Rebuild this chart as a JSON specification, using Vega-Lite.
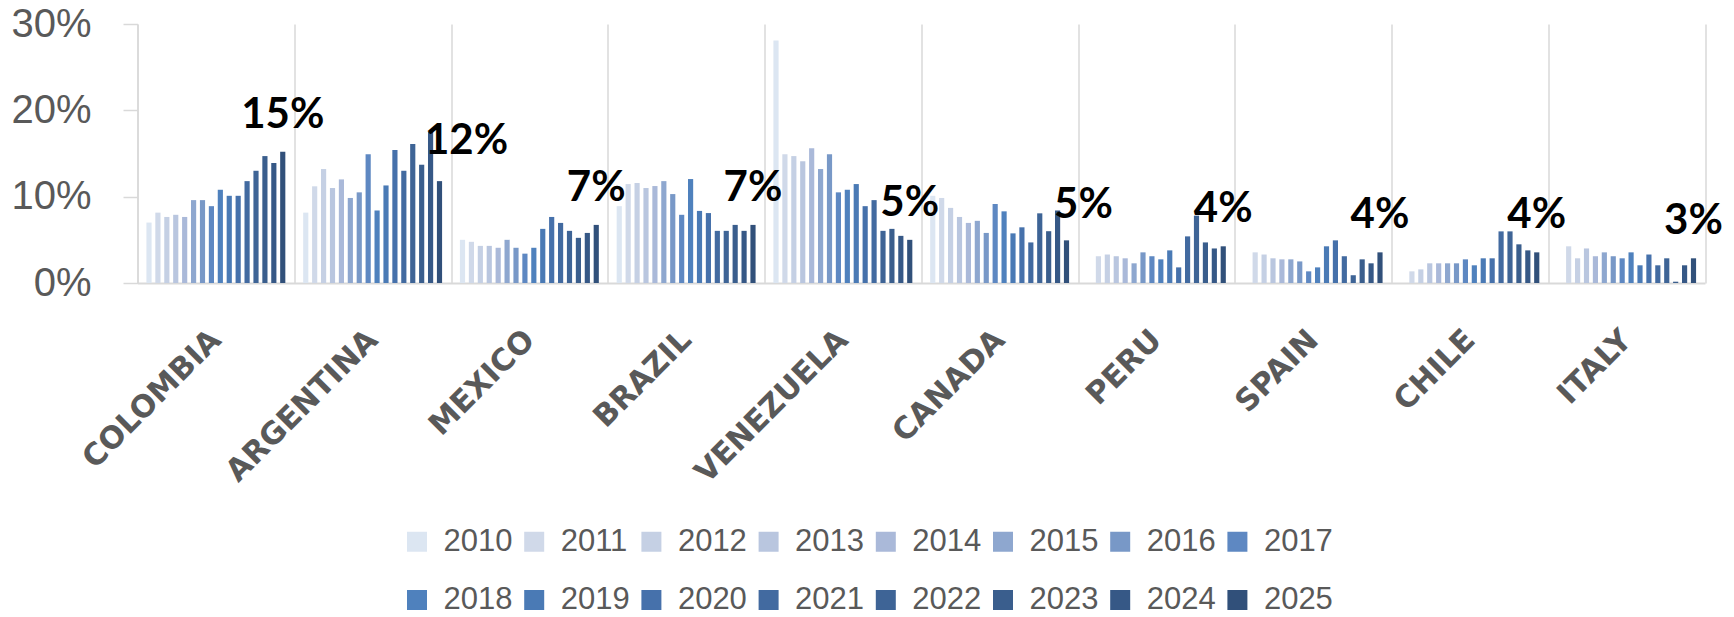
{
  "$schema": "https://vega.github.io/schema/vega-lite/v6.json",
  "autosize": {"type": "none"},
  "padding": {"left": 137.5, "top": 24, "right": 29, "bottom": 334},
  "width": 1567.5,
  "height": 259,
  "background": "white",
  "config": {"view": {"stroke": null}},
  "datasets": {
    "rates": [
      {"country": "COLOMBIA", "year": "2010", "value": 0.0700},
      {"country": "COLOMBIA", "year": "2011", "value": 0.0815},
      {"country": "COLOMBIA", "year": "2012", "value": 0.0765},
      {"country": "COLOMBIA", "year": "2013", "value": 0.0790},
      {"country": "COLOMBIA", "year": "2014", "value": 0.0765},
      {"country": "COLOMBIA", "year": "2015", "value": 0.0960},
      {"country": "COLOMBIA", "year": "2016", "value": 0.0960},
      {"country": "COLOMBIA", "year": "2017", "value": 0.0890},
      {"country": "COLOMBIA", "year": "2018", "value": 0.1080},
      {"country": "COLOMBIA", "year": "2019", "value": 0.1010},
      {"country": "COLOMBIA", "year": "2020", "value": 0.1010},
      {"country": "COLOMBIA", "year": "2021", "value": 0.1180},
      {"country": "COLOMBIA", "year": "2022", "value": 0.1300},
      {"country": "COLOMBIA", "year": "2023", "value": 0.1470},
      {"country": "COLOMBIA", "year": "2024", "value": 0.1390},
      {"country": "COLOMBIA", "year": "2025", "value": 0.1520},
      {"country": "ARGENTINA", "year": "2010", "value": 0.0815},
      {"country": "ARGENTINA", "year": "2011", "value": 0.1120},
      {"country": "ARGENTINA", "year": "2012", "value": 0.1320},
      {"country": "ARGENTINA", "year": "2013", "value": 0.1100},
      {"country": "ARGENTINA", "year": "2014", "value": 0.1200},
      {"country": "ARGENTINA", "year": "2015", "value": 0.0985},
      {"country": "ARGENTINA", "year": "2016", "value": 0.1050},
      {"country": "ARGENTINA", "year": "2017", "value": 0.1490},
      {"country": "ARGENTINA", "year": "2018", "value": 0.0840},
      {"country": "ARGENTINA", "year": "2019", "value": 0.1130},
      {"country": "ARGENTINA", "year": "2020", "value": 0.1540},
      {"country": "ARGENTINA", "year": "2021", "value": 0.1300},
      {"country": "ARGENTINA", "year": "2022", "value": 0.1610},
      {"country": "ARGENTINA", "year": "2023", "value": 0.1370},
      {"country": "ARGENTINA", "year": "2024", "value": 0.1750},
      {"country": "ARGENTINA", "year": "2025", "value": 0.1180},
      {"country": "MEXICO", "year": "2010", "value": 0.0500},
      {"country": "MEXICO", "year": "2011", "value": 0.0477},
      {"country": "MEXICO", "year": "2012", "value": 0.0430},
      {"country": "MEXICO", "year": "2013", "value": 0.0430},
      {"country": "MEXICO", "year": "2014", "value": 0.0408},
      {"country": "MEXICO", "year": "2015", "value": 0.0500},
      {"country": "MEXICO", "year": "2016", "value": 0.0408},
      {"country": "MEXICO", "year": "2017", "value": 0.0340},
      {"country": "MEXICO", "year": "2018", "value": 0.0408},
      {"country": "MEXICO", "year": "2019", "value": 0.0627},
      {"country": "MEXICO", "year": "2020", "value": 0.0765},
      {"country": "MEXICO", "year": "2021", "value": 0.0696},
      {"country": "MEXICO", "year": "2022", "value": 0.0604},
      {"country": "MEXICO", "year": "2023", "value": 0.0523},
      {"country": "MEXICO", "year": "2024", "value": 0.0580},
      {"country": "MEXICO", "year": "2025", "value": 0.0673},
      {"country": "BRAZIL", "year": "2010", "value": 0.0890},
      {"country": "BRAZIL", "year": "2011", "value": 0.1146},
      {"country": "BRAZIL", "year": "2012", "value": 0.1158},
      {"country": "BRAZIL", "year": "2013", "value": 0.1100},
      {"country": "BRAZIL", "year": "2014", "value": 0.1123},
      {"country": "BRAZIL", "year": "2015", "value": 0.1180},
      {"country": "BRAZIL", "year": "2016", "value": 0.1030},
      {"country": "BRAZIL", "year": "2017", "value": 0.0790},
      {"country": "BRAZIL", "year": "2018", "value": 0.1204},
      {"country": "BRAZIL", "year": "2019", "value": 0.0835},
      {"country": "BRAZIL", "year": "2020", "value": 0.0810},
      {"country": "BRAZIL", "year": "2021", "value": 0.0604},
      {"country": "BRAZIL", "year": "2022", "value": 0.0604},
      {"country": "BRAZIL", "year": "2023", "value": 0.0673},
      {"country": "BRAZIL", "year": "2024", "value": 0.0604},
      {"country": "BRAZIL", "year": "2025", "value": 0.0673},
      {"country": "VENEZUELA", "year": "2010", "value": 0.2810},
      {"country": "VENEZUELA", "year": "2011", "value": 0.1490},
      {"country": "VENEZUELA", "year": "2012", "value": 0.1470},
      {"country": "VENEZUELA", "year": "2013", "value": 0.1410},
      {"country": "VENEZUELA", "year": "2014", "value": 0.1560},
      {"country": "VENEZUELA", "year": "2015", "value": 0.1320},
      {"country": "VENEZUELA", "year": "2016", "value": 0.1490},
      {"country": "VENEZUELA", "year": "2017", "value": 0.1050},
      {"country": "VENEZUELA", "year": "2018", "value": 0.1080},
      {"country": "VENEZUELA", "year": "2019", "value": 0.1146},
      {"country": "VENEZUELA", "year": "2020", "value": 0.0890},
      {"country": "VENEZUELA", "year": "2021", "value": 0.0960},
      {"country": "VENEZUELA", "year": "2022", "value": 0.0604},
      {"country": "VENEZUELA", "year": "2023", "value": 0.0627},
      {"country": "VENEZUELA", "year": "2024", "value": 0.0546},
      {"country": "VENEZUELA", "year": "2025", "value": 0.0500},
      {"country": "CANADA", "year": "2010", "value": 0.1010},
      {"country": "CANADA", "year": "2011", "value": 0.0985},
      {"country": "CANADA", "year": "2012", "value": 0.0870},
      {"country": "CANADA", "year": "2013", "value": 0.0765},
      {"country": "CANADA", "year": "2014", "value": 0.0696},
      {"country": "CANADA", "year": "2015", "value": 0.0720},
      {"country": "CANADA", "year": "2016", "value": 0.0580},
      {"country": "CANADA", "year": "2017", "value": 0.0915},
      {"country": "CANADA", "year": "2018", "value": 0.0830},
      {"country": "CANADA", "year": "2019", "value": 0.0575},
      {"country": "CANADA", "year": "2020", "value": 0.0645},
      {"country": "CANADA", "year": "2021", "value": 0.0470},
      {"country": "CANADA", "year": "2022", "value": 0.0807},
      {"country": "CANADA", "year": "2023", "value": 0.0600},
      {"country": "CANADA", "year": "2024", "value": 0.0840},
      {"country": "CANADA", "year": "2025", "value": 0.0494},
      {"country": "PERU", "year": "2011", "value": 0.0310},
      {"country": "PERU", "year": "2012", "value": 0.0330},
      {"country": "PERU", "year": "2013", "value": 0.0310},
      {"country": "PERU", "year": "2014", "value": 0.0286},
      {"country": "PERU", "year": "2015", "value": 0.0228},
      {"country": "PERU", "year": "2016", "value": 0.0355},
      {"country": "PERU", "year": "2017", "value": 0.0310},
      {"country": "PERU", "year": "2018", "value": 0.0274},
      {"country": "PERU", "year": "2019", "value": 0.0378},
      {"country": "PERU", "year": "2020", "value": 0.0181},
      {"country": "PERU", "year": "2021", "value": 0.0540},
      {"country": "PERU", "year": "2022", "value": 0.0780},
      {"country": "PERU", "year": "2023", "value": 0.0470},
      {"country": "PERU", "year": "2024", "value": 0.0400},
      {"country": "PERU", "year": "2025", "value": 0.0425},
      {"country": "SPAIN", "year": "2011", "value": 0.0355},
      {"country": "SPAIN", "year": "2012", "value": 0.0330},
      {"country": "SPAIN", "year": "2013", "value": 0.0286},
      {"country": "SPAIN", "year": "2014", "value": 0.0274},
      {"country": "SPAIN", "year": "2015", "value": 0.0274},
      {"country": "SPAIN", "year": "2016", "value": 0.0250},
      {"country": "SPAIN", "year": "2017", "value": 0.0135},
      {"country": "SPAIN", "year": "2018", "value": 0.0181},
      {"country": "SPAIN", "year": "2019", "value": 0.0425},
      {"country": "SPAIN", "year": "2020", "value": 0.0494},
      {"country": "SPAIN", "year": "2021", "value": 0.0310},
      {"country": "SPAIN", "year": "2022", "value": 0.0090},
      {"country": "SPAIN", "year": "2023", "value": 0.0274},
      {"country": "SPAIN", "year": "2024", "value": 0.0228},
      {"country": "SPAIN", "year": "2025", "value": 0.0355},
      {"country": "CHILE", "year": "2011", "value": 0.0135},
      {"country": "CHILE", "year": "2012", "value": 0.0158},
      {"country": "CHILE", "year": "2013", "value": 0.0228},
      {"country": "CHILE", "year": "2014", "value": 0.0228},
      {"country": "CHILE", "year": "2015", "value": 0.0228},
      {"country": "CHILE", "year": "2016", "value": 0.0228},
      {"country": "CHILE", "year": "2017", "value": 0.0274},
      {"country": "CHILE", "year": "2018", "value": 0.0205},
      {"country": "CHILE", "year": "2019", "value": 0.0286},
      {"country": "CHILE", "year": "2020", "value": 0.0286},
      {"country": "CHILE", "year": "2021", "value": 0.0598},
      {"country": "CHILE", "year": "2022", "value": 0.0598},
      {"country": "CHILE", "year": "2023", "value": 0.0448},
      {"country": "CHILE", "year": "2024", "value": 0.0378},
      {"country": "CHILE", "year": "2025", "value": 0.0355},
      {"country": "ITALY", "year": "2011", "value": 0.0425},
      {"country": "ITALY", "year": "2012", "value": 0.0286},
      {"country": "ITALY", "year": "2013", "value": 0.0400},
      {"country": "ITALY", "year": "2014", "value": 0.0310},
      {"country": "ITALY", "year": "2015", "value": 0.0355},
      {"country": "ITALY", "year": "2016", "value": 0.0310},
      {"country": "ITALY", "year": "2017", "value": 0.0286},
      {"country": "ITALY", "year": "2018", "value": 0.0355},
      {"country": "ITALY", "year": "2019", "value": 0.0205},
      {"country": "ITALY", "year": "2020", "value": 0.0330},
      {"country": "ITALY", "year": "2021", "value": 0.0205},
      {"country": "ITALY", "year": "2022", "value": 0.0286},
      {"country": "ITALY", "year": "2023", "value": 0.0015},
      {"country": "ITALY", "year": "2024", "value": 0.0205},
      {"country": "ITALY", "year": "2025", "value": 0.0286}
    ]
  },
  "data": {"name": "rates"},
  "encoding": {
    "x": {
      "field": "country",
      "type": "nominal",
      "sort": null,
      "scale": {"paddingInner": 0, "paddingOuter": 0},
      "axis": {
        "title": null,
        "grid": true,
        "tickBand": "extent",
        "gridColor": "#d9d9d9",
        "gridWidth": 1.5,
        "ticks": false,
        "domain": true,
        "domainColor": "#d9d9d9",
        "domainWidth": 2,
        "labelAngle": -45,
        "labelAlign": "right",
        "labelBaseline": "middle",
        "labelPadding": 52,
        "labelLimit": 0,
        "labelFont": "DejaVu Sans",
        "labelFontWeight": "bold",
        "labelFontSize": 30.5,
        "labelColor": "#595959",
        "labelOverlap": false
      }
    },
    "xOffset": {
      "field": "year",
      "type": "nominal",
      "scale": {"paddingInner": 0.42, "paddingOuter": 1.1}
    },
    "y": {
      "field": "value",
      "type": "quantitative",
      "scale": {"domain": [0, 0.3], "nice": false},
      "axis": {
        "title": null,
        "values": [0, 0.1, 0.2, 0.3],
        "format": ".0%",
        "grid": false,
        "domain": true,
        "domainColor": "#d9d9d9",
        "domainWidth": 1.5,
        "ticks": true,
        "tickSize": 14.5,
        "tickColor": "#d9d9d9",
        "tickWidth": 1.5,
        "labelPadding": 32,
        "labelFont": "Liberation Sans",
        "labelFontSize": 40,
        "labelColor": "#595959"
      }
    }
  },
  "layer": [
    {
      "mark": {"type": "bar"},
      "encoding": {
        "color": {
          "field": "year",
          "type": "nominal",
          "scale": {
            "domain": ["2010","2011","2012","2013","2014","2015","2016","2017","2018","2019","2020","2021","2022","2023","2024","2025"],
            "range": ["#dce6f2","#d0d9e9","#c5d0e4","#b9c6df","#aab9d9","#8ea7cf","#7898c7","#5e88c2","#4f81bd","#4a7ab5","#4671ab","#426aa0","#3e6496","#3a5e8d","#365886","#31507a"]
          },
          "legend": {
            "title": null,
            "orient": "none",
            "legendX": 264,
            "legendY": 502,
            "direction": "horizontal",
            "columns": 8,
            "padding": 0,
            "symbolType": "square",
            "symbolSize": 400,
            "symbolStrokeWidth": 0,
            "labelOffset": 11,
            "columnPadding": 6.2,
            "rowPadding": 26.5,
            "labelFont": "Liberation Sans",
            "labelFontSize": 31,
            "labelColor": "#595959"
          }
        }
      }
    },
    {
      "transform": [{"filter": "datum.year === '2025' && datum.country !== 'ARGENTINA' && datum.country !== 'CANADA'"}],
      "mark": {
        "type": "text",
        "dy": -24,
        "baseline": "alphabetic",
        "align": "center",
        "font": "Lato",
        "fontWeight": "bold",
        "fontSize": 42,
        "color": "#000000"
      },
      "encoding": {
        "text": {"field": "value", "type": "quantitative", "format": ".0%"}
      }
    },
    {
      "transform": [{"filter": "datum.year === '2025' && datum.country === 'ARGENTINA'"}],
      "mark": {
        "type": "text",
        "dy": -27,
        "dx": 27,
        "baseline": "alphabetic",
        "align": "center",
        "font": "Lato",
        "fontWeight": "bold",
        "fontSize": 42,
        "color": "#000000"
      },
      "encoding": {
        "text": {"field": "value", "type": "quantitative", "format": ".0%"}
      }
    },
    {
      "transform": [{"filter": "datum.year === '2025' && datum.country === 'CANADA'"}],
      "mark": {
        "type": "text",
        "dy": -22,
        "dx": 17,
        "baseline": "alphabetic",
        "align": "center",
        "font": "Lato",
        "fontWeight": "bold",
        "fontSize": 42,
        "color": "#000000"
      },
      "encoding": {
        "text": {"field": "value", "type": "quantitative", "format": ".0%"}
      }
    }
  ]
}
